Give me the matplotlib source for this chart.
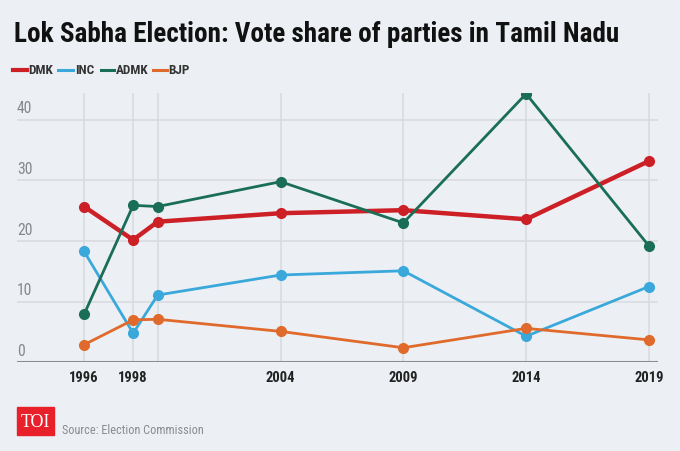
import matplotlib
matplotlib.use("Agg")
import matplotlib.pyplot as plt
from matplotlib import font_manager as fm
from matplotlib.lines import Line2D
from matplotlib.patches import Rectangle

years = [1996, 1998, 1999, 2004, 2009, 2014, 2019]
year_labels = ["1996", "1998", "", "2004", "2009", "2014", "2019"]
dmk = [25.7, 20.2, 23.2, 24.6, 25.1, 23.6, 33.2]
inc = [18.3, 4.8, 11.1, 14.4, 15.1, 4.3, 12.5]
admk = [7.9, 25.9, 25.7, 29.8, 23.0, 44.3, 19.2]
bjp = [2.9, 7.0, 7.1, 5.1, 2.4, 5.6, 3.7]
series_names = ["DMK", "INC", "ADMK", "BJP"]
colors = ["#CC1F26", "#3AA8DA", "#1A6E57", "#E06A2C"]
yticks = [0, 10, 20, 30, 40]

# pick a condensed font if one is installed
cands = []
for f in fm.fontManager.ttflist:
    n = f.name
    st = str(f.stretch)
    if "Condensed" in n or "Narrow" in n or st in ("condensed", "semi-condensed", "extra-condensed"):
        cands.append((n, st))
COND_FAMILY = "DejaVu Sans"
COND_STRETCH = "normal"
pref = ["Roboto Condensed", "Liberation Sans Narrow", "Open Sans Condensed", "DejaVu Sans Condensed"]
names = [c[0] for c in cands]
chosen = None
for p in pref:
    if p in names:
        chosen = (p, "normal")
        break
if chosen is None:
    for n, st in cands:
        if st != "normal":
            chosen = (n, "condensed")
            break
if chosen is None and cands:
    chosen = (cands[0][0], "normal")
if chosen:
    COND_FAMILY, COND_STRETCH = chosen

BG = "#ECF0F4"
W, H = 680, 452
fig = plt.figure(figsize=(W / 100, H / 100), dpi=100, facecolor=BG)
renderer = fig.canvas.get_renderer()
fam = [COND_FAMILY, "DejaVu Sans"]


def fit(t, target_w):
    bb = t.get_window_extent(renderer=renderer)
    if bb.width > 0:
        t.set_fontsize(t.get_fontsize() * target_w / bb.width)
    return t.get_fontsize()


left, right, top, bottom = 17, 658, 93.6, 363.3
ax = fig.add_axes([left / W, 1 - bottom / H, (right - left) / W, (bottom - top) / H])
ax.set_facecolor(BG)
ax.set_xlim(1993.27, 2019.37)
ax.set_ylim(0, 44.5)
for s in ax.spines.values():
    s.set_visible(False)
ax.set_xticks([])
ax.set_yticks([])

for yv in yticks[1:]:
    ax.axhline(yv, color="#D6DADF", lw=1.1, zorder=1)
for xv in years:
    ax.axvline(xv, ymin=0, ymax=1, color="#D6DADF", lw=1.1, zorder=1)
ax.axhline(0, color="#8A8C8E", lw=2.2, zorder=2)

# y labels: size fitted from "40", same size for all
probe = ax.text(1993.27, 40.75, "40", ha="left", va="bottom", fontsize=11,
                color="#85878A", family=fam, stretch=COND_STRETCH, zorder=3)
ysize = fit(probe, 15.5)
for yv in yticks[:-1]:
    ax.text(1993.27, yv + 0.75, str(yv), ha="left", va="bottom", fontsize=ysize,
            color="#85878A", family=fam, stretch=COND_STRETCH, zorder=3)

for xv, lab in zip(years, year_labels):
    if lab:
        ax.text(xv, -1.3, lab, ha="center", va="top", fontsize=10.5, fontweight="bold",
                color="#222222", family=fam, stretch=COND_STRETCH)

data = [dmk, inc, admk, bjp]
lws = [3.2, 2.0, 2.0, 2.0]
for name, vals, c, lw in zip(series_names, data, colors, lws):
    ax.plot(years, vals, color=c, lw=lw, marker="o", markersize=7, zorder=4)

t = fig.text(14 / W, 1 - 34 / H, "Lok Sabha Election: Vote share of parties in Tamil Nadu",
             ha="left", va="center", fontsize=19.5, fontweight="bold", color="#111111",
             family=fam, stretch=COND_STRETCH)
fit(t, 606)

legend_line = {"DMK": (12.7, 26.7), "INC": (58.3, 72.7), "ADMK": (100.7, 114.3), "BJP": (153.3, 166.7)}
for name, c in zip(series_names, colors):
    x0, x1 = legend_line[name]
    fig.add_artist(Line2D([x0 / W, x1 / W], [1 - 71 / H, 1 - 71 / H],
                          color=c, lw=3 if name == "DMK" else 2.2,
                          transform=fig.transFigure))
    fig.text((x1 + 2) / W, 1 - 71 / H, name, ha="left", va="center",
             fontsize=9.5, fontweight="bold", color="#333333", family=fam,
             stretch=COND_STRETCH)

fig.add_artist(Rectangle((16.7 / W, 1 - 435.7 / H), 37.6 / W, 27.4 / H, color="#E8202A",
                         transform=fig.transFigure))
t = fig.text(35.5 / W, 1 - 422.5 / H, "TOI", ha="center", va="center", fontsize=10.5,
             color="white", family=["Liberation Serif", "DejaVu Serif"])
fit(t, 29.5)
t = fig.text(62.3 / W, 1 - 431 / H, "Source: Election Commission", ha="left", va="center",
             fontsize=9.5, color="#8A8C8E", family=fam, stretch=COND_STRETCH)
fit(t, 142)

fig.savefig("out.png", dpi=100, facecolor=BG)
